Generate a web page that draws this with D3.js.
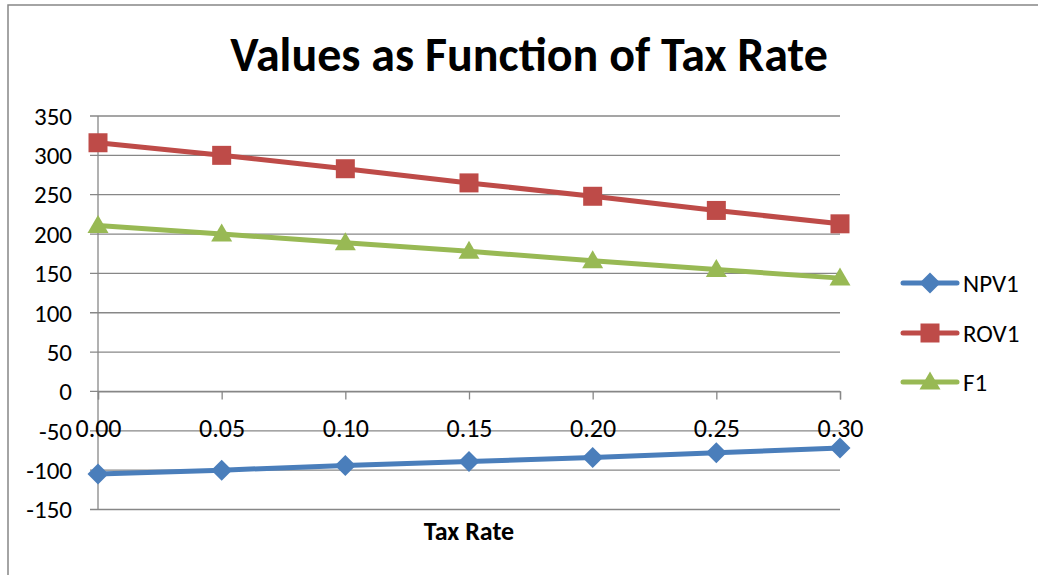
<!DOCTYPE html>
<html><head><meta charset="utf-8">
<script src="https://cdn.jsdelivr.net/npm/d3@7"></script>
<style>
body{margin:0;background:#fff;}
svg{display:block;font-family:Carlito,Calibri,Lato,sans-serif;}
</style></head>
<body><svg id="c" width="1038" height="575"></svg>
<script>
const taxRates = [0.00, 0.05, 0.10, 0.15, 0.20, 0.25, 0.30];
const npv1 = [-105, -100, -94, -89, -84, -78, -72];
const rov1 = [316, 300, 283, 265, 248, 230, 213];
const f1 = [211, 200, 189, 178, 166, 155, 144];
const yTicks = [350, 300, 250, 200, 150, 100, 50, 0, -50, -100, -150];
const seriesNames = ["NPV1", "ROV1", "F1"];
const seriesColors = ["#4a7ebb", "#be4b48", "#98b954"];
const seriesValues = [npv1, rov1, f1];

// marker shapes (path generators in local coords)
const markerPaths = [
  "M0,-10.5L10.5,0L0,10.5L-10.5,0Z",
  "M-9.5,-9.5H9.5V9.5H-9.5Z",
  "M0,-10.5L10.5,7.5L-10.5,7.5Z"
];

const svg = d3.select("#c");
svg.append("rect").attr("x", 8).attr("y", 5).attr("width", 1100).attr("height", 700)
  .attr("fill", "none").attr("stroke", "#878787").attr("stroke-width", 1.5);

const x = d3.scaleLinear().domain([0, 0.30]).range([98, 840]);
const y = d3.scaleLinear().domain([-150, 350]).range([509.5, 116]);

// gridlines
svg.append("g").selectAll("line").data(yTicks).join("line")
  .attr("x1", 90).attr("x2", 840).attr("y1", d => y(d)).attr("y2", d => y(d))
  .attr("stroke", "#878787").attr("stroke-width", 1.3);

// y axis line
svg.append("line").attr("x1", 98).attr("x2", 98).attr("y1", y(350)).attr("y2", y(-150))
  .attr("stroke", "#878787").attr("stroke-width", 1.3);

// y tick labels
svg.append("g").selectAll("text").data(yTicks).join("text")
  .attr("x", 72).attr("y", d => y(d)).attr("dy", "0.35em").attr("text-anchor", "end")
  .attr("font-size", 25).attr("fill", "#000").text(d => d);

// x axis at 0
const xAxis = d3.axisBottom(x).tickValues(taxRates).tickFormat(d3.format(".2f")).tickSize(8).tickPadding(19);
const gx = svg.append("g").attr("transform", `translate(0,${y(0)})`).call(xAxis);
gx.select(".domain").attr("stroke", "#878787").attr("stroke-width", 1.3);
gx.selectAll(".tick line").attr("stroke", "#878787").attr("stroke-width", 1.3);
gx.selectAll(".tick text").attr("font-size", 26).attr("fill", "#000").attr("font-family", "Carlito,Calibri,Lato,sans-serif");

// series
const line = d3.line().x((d, i) => x(taxRates[i])).y(d => y(d));
seriesValues.forEach((vals, s) => {
  svg.append("path").datum(vals).attr("d", line).attr("fill", "none")
    .attr("stroke", seriesColors[s]).attr("stroke-width", 5).attr("stroke-linejoin", "round");
  svg.append("g").selectAll("path").data(vals).join("path")
    .attr("transform", (d, i) => `translate(${x(taxRates[i])},${y(d)})`)
    .attr("d", markerPaths[s]).attr("fill", seriesColors[s]);
});

// title
svg.append("text").attr("x", 529).attr("y", 71).attr("text-anchor", "middle")
  .attr("font-size", 48).attr("font-weight", "bold").text("Values as Function of Tax Rate");
// x title
svg.append("text").attr("x", 469).attr("y", 540).attr("text-anchor", "middle")
  .attr("font-size", 26).attr("font-weight", "bold").text("Tax Rate");

// legend
const legY = [283, 333, 382];
seriesNames.forEach((n, s) => {
  const g = svg.append("g");
  g.append("line").attr("x1", 903).attr("x2", 957).attr("y1", legY[s]).attr("y2", legY[s])
    .attr("stroke", seriesColors[s]).attr("stroke-width", 5).attr("stroke-linecap", "round");
  g.append("path").attr("transform", `translate(930,${legY[s]})`)
    .attr("d", markerPaths[s]).attr("fill", seriesColors[s]);
  g.append("text").attr("x", 963).attr("y", legY[s]).attr("dy", "0.35em")
    .attr("font-size", 25).text(n);
});
</script></body></html>
